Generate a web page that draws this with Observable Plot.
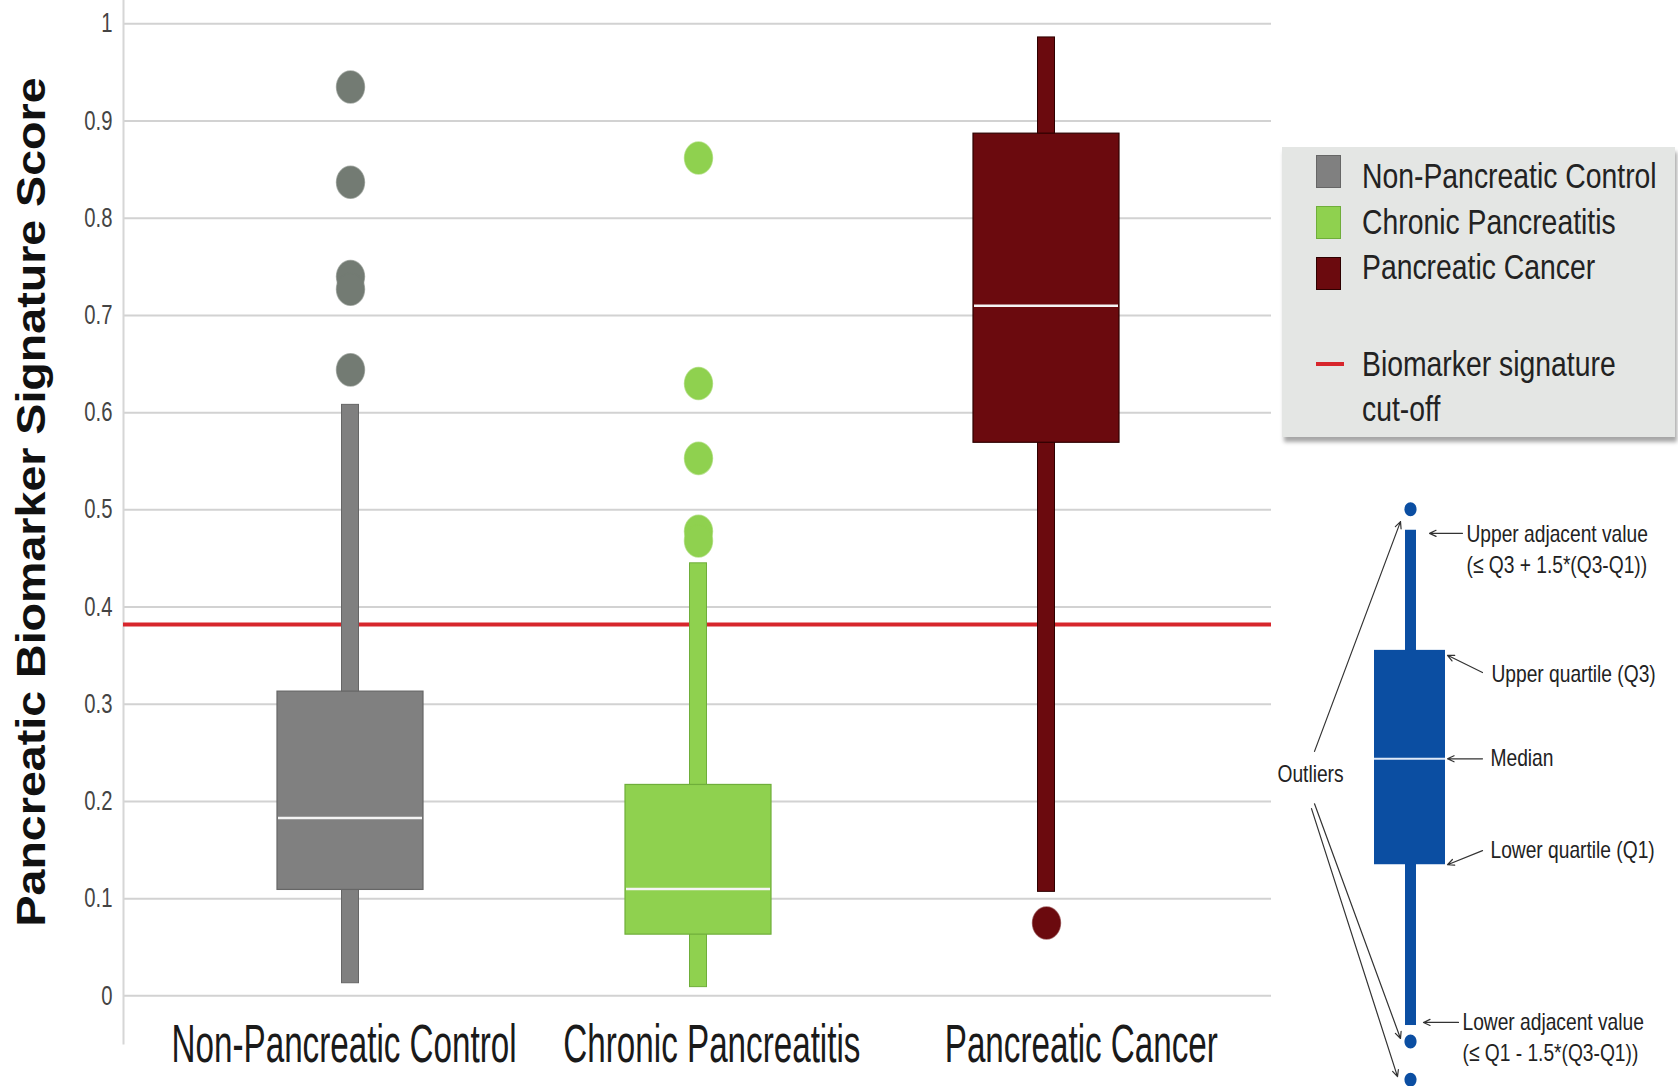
<!DOCTYPE html>
<html><head><meta charset="utf-8">
<script src="https://cdn.jsdelivr.net/npm/d3@7"></script>
<script src="https://cdn.jsdelivr.net/npm/@observablehq/plot@0.6"></script>
<style>
body{margin:0;background:#fff;width:1678px;height:1086px;overflow:hidden;position:relative;font-family:"Liberation Sans",Arial,sans-serif}
#chart{position:absolute;left:0;top:0}
#legend{position:absolute;left:1282px;top:147px;width:393px;height:290px;background:#e4e6e4;box-shadow:2px 5px 4px rgba(0,0,0,0.35)}
#legend .sw{position:absolute;left:34px;width:25px;height:33px;box-sizing:border-box}
#legend .txt{position:absolute;left:80px;font-size:35px;color:#222;line-height:1;white-space:nowrap;transform:scaleX(0.81);transform-origin:0 50%}
#inset{position:absolute;left:1240px;top:470px}
</style></head><body>
<div id="chart"></div><div id="legend"></div><div id="inset"></div>
<script>
// ---- data ----
const categories = ["Non-Pancreatic Control", "Chronic Pancreatitis", "Pancreatic Cancer"];
const boxColors = ["#808080", "#8fd14f", "#6b0a0e"];
const boxStrokes = ["#666666", "#6fae3a", "#2e0000"];
const outlierColors = ["#737b73", "#8fd14f", "#6b0a0e"];
const whiskerLow = [0.013, 0.009, 0.107];
const quartile1 = [0.109, 0.063, 0.569];
const medians = [0.183, 0.110, 0.710];
const quartile3 = [0.313, 0.217, 0.887];
const whiskerHigh = [0.608, 0.445, 0.986];
const outlierGroups = ["Non-Pancreatic Control", "Non-Pancreatic Control", "Non-Pancreatic Control", "Non-Pancreatic Control", "Non-Pancreatic Control",
  "Chronic Pancreatitis", "Chronic Pancreatitis", "Chronic Pancreatitis", "Chronic Pancreatitis", "Chronic Pancreatitis",
  "Pancreatic Cancer"];
const outlierValues = [0.935, 0.837, 0.740, 0.727, 0.644, 0.862, 0.630, 0.553, 0.478, 0.468, 0.075];
const cutoff = 0.382;
const cutoffLabel = ["Biomarker signature", "cut-off"];
const yTicks = [0, 0.1, 0.2, 0.3, 0.4, 0.5, 0.6, 0.7, 0.8, 0.9, 1];
const yTitle = "Pancreatic Biomarker Signature Score";
const xLabelShift = [-6.4, 13.4, 34.8];

// inset (schematic) data
const insetLow = 0.99, insetQ1 = 3.60, insetMedian = 5.32, insetQ3 = 7.08, insetHigh = 9.03;
const insetOutliers = [9.37, 0.73, 0.11];
const insetText = ["Upper adjacent value", "(≤ Q3 + 1.5*(Q3-Q1))", "Upper quartile (Q3)", "Median", "Lower quartile (Q1)", "Lower adjacent value", "(≤ Q1 - 1.5*(Q3-Q1))"];
const insetTextX = [56, 56, 81, 80, 80, 52, 52];
const insetTextY = [8.96, 8.46, 6.69, 5.32, 3.83, 1.04, 0.54];
const outliersLabel = "Outliers";
const outliersLabelX = -100, outliersLabelY = 5.06;
const insetArrowX1 = [52, 72, 72, 72, 48, -96, -96, -99];
const insetArrowY1 = [8.98, 6.72, 5.32, 3.83, 1.04, 5.44, 4.59, 4.51];
const insetArrowX2 = [19, 37, 37, 37, 13, -10, -10, -13];
const insetArrowY2 = [8.98, 7.00, 5.32, 3.60, 1.04, 9.17, 0.78, 0.16];

// ---- helpers ----
// horizontally condense (or stretch) each text around its own anchor point
function condense(root, selector, factor) {
  root.querySelectorAll(selector).forEach(t => {
    const ax = t.x && t.x.baseVal.length ? t.x.baseVal[0].value : 0;
    const tr = t.getAttribute("transform") || "";
    t.setAttribute("transform", `${tr} translate(${ax},0) scale(${factor},1) translate(${-ax},0)`);
  });
}
const ellipse = {
  draw(ctx, size) {
    const r = Math.sqrt(size / Math.PI), rx = r * 0.93, ry = r * 1.07, k = 0.5523;
    ctx.moveTo(rx, 0);
    ctx.bezierCurveTo(rx, ry * k, rx * k, ry, 0, ry);
    ctx.bezierCurveTo(-rx * k, ry, -rx, ry * k, -rx, 0);
    ctx.bezierCurveTo(-rx, -ry * k, -rx * k, -ry, 0, -ry);
    ctx.bezierCurveTo(rx * k, -ry, rx, -ry * k, rx, 0);
    ctx.closePath();
  }
};

// ---- build ----
const boxes = categories.map((c, i) => ({cat: c, lo: whiskerLow[i], q1: quartile1[i], med: medians[i], q3: quartile3[i], hi: whiskerHigh[i], fill: boxColors[i], stroke: boxStrokes[i]}));
const outliers = outlierValues.map((v, i) => ({cat: outlierGroups[i], v, fill: outlierColors[categories.indexOf(outlierGroups[i])]}));

const chart = Plot.plot({
  width: 1678, height: 1086,
  marginLeft: 123, marginRight: 407, marginTop: 0, marginBottom: 43,
  x: {domain: categories, range: [176, 1220], paddingInner: 0.58, paddingOuter: 0.29, label: null},
  y: {domain: [-0.049, 1.024], label: null},
  style: {fontFamily: '"Liberation Sans",Arial,sans-serif', background: "transparent"},
  marks: [
    Plot.gridY(yTicks, {stroke: "#d2d2d2", strokeOpacity: 1, strokeWidth: 2}),
    Plot.frame({anchor: "left", stroke: "#d6d6d6", strokeWidth: 2}),
    Plot.ruleY([cutoff], {stroke: "#d7262c", strokeWidth: 4}),
    Plot.barY(boxes, {x: "cat", y1: "lo", y2: "hi", fill: "fill", stroke: "stroke", strokeWidth: 1, insetLeft: 64.5, insetRight: 64.5}),
    Plot.barY(boxes, {x: "cat", y1: "q1", y2: "q3", fill: "fill", stroke: "stroke", strokeWidth: 1.2}),
    Plot.tickY(boxes, {x: "cat", y: "med", stroke: "#f4f4f4", strokeWidth: 2.5, inset: 1}),
    Plot.dot(outliers, {x: "cat", y: "v", r: 15, symbol: ellipse, fill: "fill", stroke: "fill", strokeOpacity: 0.6}),
    Plot.axisY(yTicks, {tickSize: 0, tickPadding: 11, fontSize: 27, fill: "#444", tickFormat: d3.format("~g")}),
    ...categories.map((c, i) => Plot.axisX([c], {tickSize: 0, tickPadding: -20, dx: xLabelShift[i], fontSize: 54, fill: "#1a1a1a"})),
    Plot.text([yTitle], {frameAnchor: "left", text: d => d, textAnchor: "middle", rotate: -90, dx: -91, dy: -20, fontSize: 40, fontWeight: "bold", fill: "#111"})
  ]
});
document.getElementById("chart").appendChild(chart);
condense(chart, 'g[aria-label="x-axis tick label"] text', 0.615);
condense(chart, 'g[aria-label="y-axis tick label"] text', 0.75);
condense(chart, 'g[aria-label="text"] text', 1.165);

// legend
const legend = document.getElementById("legend");
const swatchCenters = [24, 75, 126];
const textCenters = [28, 74, 119];
categories.forEach((c, i) => {
  const s = document.createElement("div");
  s.className = "sw";
  s.style.top = (swatchCenters[i] - 16.5) + "px";
  s.style.background = boxColors[i];
  s.style.border = "1px solid " + boxStrokes[i];
  legend.appendChild(s);
  const t = document.createElement("div");
  t.className = "txt";
  t.style.top = (textCenters[i] - 17) + "px";
  t.textContent = c;
  legend.appendChild(t);
});
const line = document.createElement("div");
line.style.cssText = "position:absolute;left:34px;top:215px;width:28px;height:4px;background:#d7262c";
legend.appendChild(line);
cutoffLabel.forEach((s, i) => {
  const t = document.createElement("div");
  t.className = "txt";
  t.style.top = (217 - 18 + i * 45) + "px";
  t.textContent = s;
  legend.appendChild(t);
});

// inset schematic
const blue = "#0b4ea2";
const inset = Plot.plot({
  width: 438, height: 616, margin: 0,
  x: {domain: [-170, 268], axis: null},
  y: {domain: [0, 10], axis: null},
  style: {fontFamily: '"Liberation Sans",Arial,sans-serif', background: "transparent", overflow: "visible"},
  marks: [
    Plot.rectY([0], {x1: -5, x2: 6, y1: insetLow, y2: insetHigh, fill: blue}),
    Plot.rectY([0], {x1: -36, x2: 35, y1: insetQ1, y2: insetQ3, fill: blue}),
    Plot.ruleY([insetMedian], {x1: -36, x2: 35, stroke: "#dfe9f7", strokeWidth: 2}),
    Plot.dot(insetOutliers, {x: 0, y: d => d, r: 6.5, symbol: ellipse, fill: blue}),
    Plot.arrow(insetArrowX1.map((_, i) => i), {x1: i => insetArrowX1[i], y1: i => insetArrowY1[i], x2: i => insetArrowX2[i], y2: i => insetArrowY2[i], stroke: "#333", strokeWidth: 1.2, headLength: 9, headAngle: 50}),
    Plot.text(insetText, {x: (d, i) => insetTextX[i], y: (d, i) => insetTextY[i], text: d => d, textAnchor: "start", fontSize: 24, fill: "#222"}),
    Plot.text([outliersLabel], {x: outliersLabelX, y: outliersLabelY, text: d => d, textAnchor: "middle", fontSize: 24, fill: "#222"})
  ]
});
document.getElementById("inset").appendChild(inset);
condense(inset, 'g[aria-label="text"] text', 0.8);
</script>
</body></html>
